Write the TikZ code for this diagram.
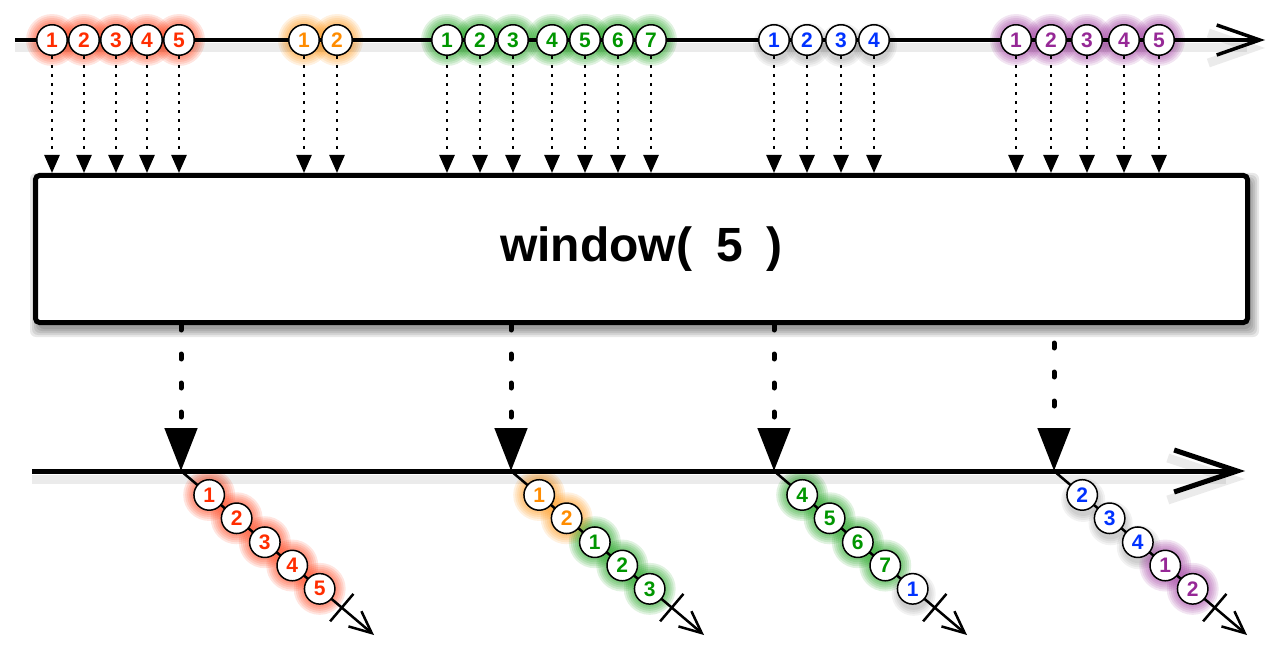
\documentclass[tikz,border=0pt]{standalone}
\usepackage{fontspec}
\setsansfont{Liberation Sans}
\usetikzlibrary{arrows.meta,calc}
\definecolor{mred}{RGB}{255,45,0}
\definecolor{morange}{RGB}{255,140,0}
\definecolor{mgreen}{RGB}{0,150,0}
\definecolor{mblue}{RGB}{0,50,255}
\definecolor{mpurple}{RGB}{150,40,150}
\tikzstyle{Marble}=[shape=circle, minimum size=30.5pt, inner sep=0pt, fill=white, draw=black, line width=1.5pt, font=\sffamily\bfseries\fontsize{21}{21}\selectfont]
\tikzstyle{RedMarble}=[style=Marble, text=mred]
\tikzstyle{OrangeMarble}=[style=Marble, text=morange]
\tikzstyle{GreenMarble}=[style=Marble, text=mgreen]
\tikzstyle{BlueMarble}=[style=Marble, text=mblue]
\tikzstyle{PurpleMarble}=[style=Marble, text=mpurple]
\tikzstyle{Glow}=[fill opacity=0.12]
\tikzstyle{Shade}=[fill=black, fill opacity=0.05]
\tikzstyle{BoxShadow}=[fill=black, fill opacity=0.09, rounded corners=6pt]
\tikzstyle{Operator}=[shape=rectangle, minimum width=1212pt, minimum height=147pt, fill=white, draw=black, line width=5pt, rounded corners=4pt, font=\sffamily\bfseries\fontsize{48}{48}\selectfont]
\tikzstyle{timeline}=[line width=3.5pt, preaction={draw=black, opacity=0.08, line width=9pt, transform canvas={yshift=-8pt}}]
\tikzstyle{feed}=[line width=2.5pt, dash pattern=on 3pt off 6pt, -{Triangle[width=15pt,length=18pt]}]
\tikzstyle{emit}=[line width=5pt, line cap=round, dash pattern=on 5pt off 24pt, -{Triangle[width=32pt,length=43pt]}]
\tikzstyle{stream}=[line width=2.5pt, -{Straight Barb[length=22pt,width=20pt]}]
\tikzstyle{stop}=[line width=2.5pt]
\pgfdeclarelayer{glowlayer}
\pgfdeclarelayer{nodelayer}
\pgfdeclarelayer{edgelayer}
\pgfsetlayers{glowlayer, edgelayer, nodelayer, main}
\begin{document}
\begin{tikzpicture}[x=1pt, y=-1pt]
	\useasboundingbox (0, 0) rectangle (1280, 650);
	\coordinate (tstart) at (15, 40);
	\coordinate (tend) at (1265, 40);
	\coordinate (lstart) at (32, 471);
	\coordinate (lend) at (1245, 471);
	\coordinate (c1) at (181, 471);
	\coordinate (c2) at (511, 471);
	\coordinate (c3) at (774, 471);
	\coordinate (c4) at (1054, 471);
	\coordinate (t1) at ($(c1) + (193, 164)$);
	\coordinate (t2) at ($(c2) + (193, 164)$);
	\coordinate (t3) at ($(c3) + (193, 164)$);
	\coordinate (t4) at ($(c4) + (193, 164)$);
	\coordinate (e1) at ($(c1)!211pt!(t1)$);
	\coordinate (e2) at ($(c2)!211pt!(t2)$);
	\coordinate (e3) at ($(c3)!211pt!(t3)$);
	\coordinate (e4) at ($(c4)!211pt!(t4)$);
	\begin{pgfonlayer}{nodelayer}
		\node [style=RedMarble] (r1) at (52, 40) {1};
		\node [style=RedMarble] (r2) at (84, 40) {2};
		\node [style=RedMarble] (r3) at (116, 40) {3};
		\node [style=RedMarble] (r4) at (147, 40) {4};
		\node [style=RedMarble] (r5) at (179, 40) {5};
		\node [style=OrangeMarble] (o1) at (304, 40) {1};
		\node [style=OrangeMarble] (o2) at (337, 40) {2};
		\node [style=GreenMarble] (g1) at (447, 40) {1};
		\node [style=GreenMarble] (g2) at (480, 40) {2};
		\node [style=GreenMarble] (g3) at (513, 40) {3};
		\node [style=GreenMarble] (g4) at (552, 40) {4};
		\node [style=GreenMarble] (g5) at (585, 40) {5};
		\node [style=GreenMarble] (g6) at (618, 40) {6};
		\node [style=GreenMarble] (g7) at (651, 40) {7};
		\node [style=BlueMarble] (b1) at (774, 40) {1};
		\node [style=BlueMarble] (b2) at (807, 40) {2};
		\node [style=BlueMarble] (b3) at (841, 40) {3};
		\node [style=BlueMarble] (b4) at (874, 40) {4};
		\node [style=PurpleMarble] (p1) at (1016, 40) {1};
		\node [style=PurpleMarble] (p2) at (1051, 40) {2};
		\node [style=PurpleMarble] (p3) at (1087, 40) {3};
		\node [style=PurpleMarble] (p4) at (1124, 40) {4};
		\node [style=PurpleMarble] (p5) at (1159, 40) {5};
		\node [style=Operator] (op) at (641.5, 249) {window(\hspace{0.5em}5\hspace{0.5em})};
		\node [style=RedMarble] (w1a) at ($(c1)!37pt!(t1)$) {1};
		\node [style=RedMarble] (w1b) at ($(c1)!73pt!(t1)$) {2};
		\node [style=RedMarble] (w1c) at ($(c1)!110pt!(t1)$) {3};
		\node [style=RedMarble] (w1d) at ($(c1)!146pt!(t1)$) {4};
		\node [style=RedMarble] (w1e) at ($(c1)!182pt!(t1)$) {5};
		\node [style=OrangeMarble] (w2a) at ($(c2)!37pt!(t2)$) {1};
		\node [style=OrangeMarble] (w2b) at ($(c2)!73pt!(t2)$) {2};
		\node [style=GreenMarble] (w2c) at ($(c2)!110pt!(t2)$) {1};
		\node [style=GreenMarble] (w2d) at ($(c2)!146pt!(t2)$) {2};
		\node [style=GreenMarble] (w2e) at ($(c2)!182pt!(t2)$) {3};
		\node [style=GreenMarble] (w3a) at ($(c3)!37pt!(t3)$) {4};
		\node [style=GreenMarble] (w3b) at ($(c3)!73pt!(t3)$) {5};
		\node [style=GreenMarble] (w3c) at ($(c3)!110pt!(t3)$) {6};
		\node [style=GreenMarble] (w3d) at ($(c3)!146pt!(t3)$) {7};
		\node [style=BlueMarble] (w3e) at ($(c3)!182pt!(t3)$) {1};
		\node [style=BlueMarble] (w4a) at ($(c4)!37pt!(t4)$) {2};
		\node [style=BlueMarble] (w4b) at ($(c4)!73pt!(t4)$) {3};
		\node [style=BlueMarble] (w4c) at ($(c4)!110pt!(t4)$) {4};
		\node [style=PurpleMarble] (w4d) at ($(c4)!146pt!(t4)$) {1};
		\node [style=PurpleMarble] (w4e) at ($(c4)!182pt!(t4)$) {2};
	\end{pgfonlayer}
	\begin{pgfonlayer}{glowlayer}
		\foreach \b in {-2, 0, 2, 4, 6}
			\fill [style=BoxShadow] ($(op.north west) + (3 - \b, 6 - \b)$) rectangle ($(op.south east) + (3 + \b, 6 + \b)$);
		\foreach \m in {r1, r2, r3, r4, r5, w1a, w1b, w1c, w1d, w1e}
			\foreach \r in {18, 20, 22, 24, 26}
				\fill [style=Glow, fill=mred] (\m) circle (\r pt);
		\foreach \m in {o1, o2, w2a, w2b}
			\foreach \r in {18, 20, 22, 24, 26}
				\fill [style=Glow, fill=morange] (\m) circle (\r pt);
		\foreach \m in {g1, g2, g3, g4, g5, g6, g7, w2c, w2d, w2e, w3a, w3b, w3c, w3d}
			\foreach \r in {18, 20, 22, 24, 26}
				\fill [style=Glow, fill=mgreen] (\m) circle (\r pt);
		\foreach \m in {b1, b2, b3, b4, w3e, w4a, w4b, w4c}
			\foreach \r in {16, 18, 20, 22}
				\fill [style=Shade] ($(\m) + (1, 5)$) circle (\r pt);
		\foreach \m in {p1, p2, p3, p4, p5, w4d, w4e}
			\foreach \r in {18, 20, 22, 24, 26}
				\fill [style=Glow, fill=mpurple] (\m) circle (\r pt);
	\end{pgfonlayer}
	\begin{pgfonlayer}{edgelayer}
		\draw [style=timeline, -{Straight Barb[length=43pt,width=30pt]}] (tstart) to (tend);
		\draw [style=feed] (r1.south) to (r1.south |- op.north);
		\draw [style=feed] (r2.south) to (r2.south |- op.north);
		\draw [style=feed] (r3.south) to (r3.south |- op.north);
		\draw [style=feed] (r4.south) to (r4.south |- op.north);
		\draw [style=feed] (r5.south) to (r5.south |- op.north);
		\draw [style=feed] (o1.south) to (o1.south |- op.north);
		\draw [style=feed] (o2.south) to (o2.south |- op.north);
		\draw [style=feed] (g1.south) to (g1.south |- op.north);
		\draw [style=feed] (g2.south) to (g2.south |- op.north);
		\draw [style=feed] (g3.south) to (g3.south |- op.north);
		\draw [style=feed] (g4.south) to (g4.south |- op.north);
		\draw [style=feed] (g5.south) to (g5.south |- op.north);
		\draw [style=feed] (g6.south) to (g6.south |- op.north);
		\draw [style=feed] (g7.south) to (g7.south |- op.north);
		\draw [style=feed] (b1.south) to (b1.south |- op.north);
		\draw [style=feed] (b2.south) to (b2.south |- op.north);
		\draw [style=feed] (b3.south) to (b3.south |- op.north);
		\draw [style=feed] (b4.south) to (b4.south |- op.north);
		\draw [style=feed] (p1.south) to (p1.south |- op.north);
		\draw [style=feed] (p2.south) to (p2.south |- op.north);
		\draw [style=feed] (p3.south) to (p3.south |- op.north);
		\draw [style=feed] (p4.south) to (p4.south |- op.north);
		\draw [style=feed] (p5.south) to (p5.south |- op.north);
		\draw [style=timeline, line width=5pt, -{Straight Barb[length=63pt,width=42pt]}] (lstart) to (lend);
		\draw [style=emit] (op.south -| c1) to (c1);
		\draw [style=emit] (op.south -| c2) to (c2);
		\draw [style=emit] (op.south -| c3) to (c3);
		\draw [style=emit, shorten <=18pt] (op.south -| c4) to (c4);
		\draw [style=stream] (c1) to (t1);
		\draw [style=stream] (c2) to (t2);
		\draw [style=stream] (c3) to (t3);
		\draw [style=stream] (c4) to (t4);
		\draw [style=stop] ($(e1)!18pt!90:(t1)$) to ($(e1)!18pt!-90:(t1)$);
		\draw [style=stop] ($(e2)!18pt!90:(t2)$) to ($(e2)!18pt!-90:(t2)$);
		\draw [style=stop] ($(e3)!18pt!90:(t3)$) to ($(e3)!18pt!-90:(t3)$);
		\draw [style=stop] ($(e4)!18pt!90:(t4)$) to ($(e4)!18pt!-90:(t4)$);
	\end{pgfonlayer}
\end{tikzpicture}
\end{document}
